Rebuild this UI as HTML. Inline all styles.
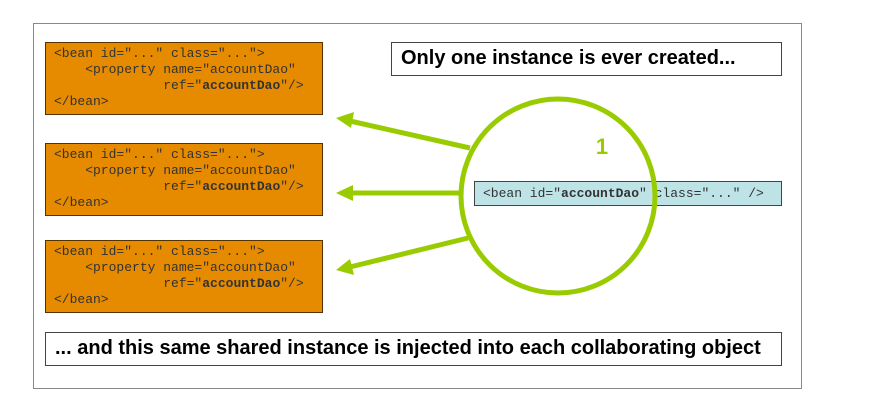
<!DOCTYPE html><html><head><style>
body{margin:0;width:877px;height:414px;background:#fff;position:relative;overflow:hidden;font-family:"Liberation Sans",sans-serif}
.a{position:absolute;box-sizing:border-box}
.o{background:#e68a00;border:1px solid #553300;font:13px/16px "Liberation Mono",monospace;color:#333;padding:3px 8px;white-space:pre}
.t{background:#fff;border:1px solid #444;font-weight:bold;font-size:20px;padding:0 9px;line-height:31px;color:#000;white-space:nowrap}
</style></head><body>
<div class="a" style="left:33px;top:23px;width:769px;height:366px;border:1px solid #888"></div>
<div class="a o" style="left:45px;top:42px;width:278px;height:73px">&lt;bean id="..." class="..."&gt;
    &lt;property name="accountDao"
              ref="<b>accountDao</b>"/&gt;
&lt;/bean&gt;</div>
<div class="a o" style="left:45px;top:143px;width:278px;height:73px">&lt;bean id="..." class="..."&gt;
    &lt;property name="accountDao"
              ref="<b>accountDao</b>"/&gt;
&lt;/bean&gt;</div>
<div class="a o" style="left:45px;top:240px;width:278px;height:73px">&lt;bean id="..." class="..."&gt;
    &lt;property name="accountDao"
              ref="<b>accountDao</b>"/&gt;
&lt;/bean&gt;</div>
<div class="a t" style="left:391px;top:42px;width:391px;height:34px">Only one instance is ever created...</div>
<div class="a t" style="left:45px;top:332px;width:737px;height:34px">... and this same shared instance is injected into each collaborating object</div>
<div class="a" style="left:474px;top:181px;width:308px;height:25px;background:#bde3e6;border:1px solid #444;font:13px/23px 'Liberation Mono',monospace;padding-left:8px;color:#333;white-space:pre">&lt;bean id="<b>accountDao</b>" class="..." /&gt;</div>
<svg class="a" style="left:0;top:0" width="877" height="414">
<g stroke="#99cc00" stroke-width="5" fill="none">
<circle cx="558" cy="196" r="97"/>
<line x1="470" y1="148" x2="350" y2="121"/>
<line x1="461" y1="193" x2="350" y2="193"/>
<line x1="468" y1="238" x2="350" y2="267"/>
</g>
<g fill="#99cc00">
<polygon points="336,118 354,112 351,128"/>
<polygon points="336,193 353,185 353,201"/>
<polygon points="336,270 350,259 354,275"/>
</g>
<text x="602" y="154" fill="#99cc00" font-family="Liberation Sans" font-weight="bold" font-size="22" text-anchor="middle">1</text>
</svg>
</body></html>
